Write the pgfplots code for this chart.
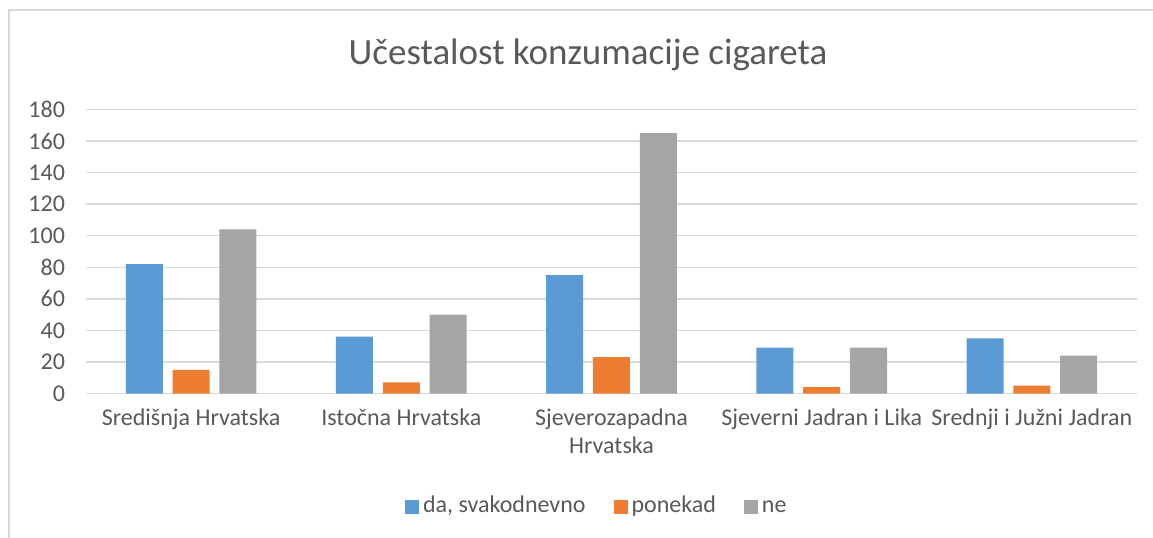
\documentclass[border=0pt]{standalone}
\usepackage{fontspec}
\setmainfont{Carlito}
\usepackage{pgfplots}
\pgfplotsset{compat=1.18}
\definecolor{cBlue}{HTML}{5B9BD5}
\definecolor{cOrange}{HTML}{ED7D31}
\definecolor{cGray}{HTML}{A5A5A5}
\definecolor{cText}{HTML}{595959}
\definecolor{cGrid}{HTML}{D9D9D9}
\begin{document}
\begin{tikzpicture}[x=1pt,y=1pt]
\path[use as bounding box] (0,0) rectangle (576.5,268.5);
\draw[cGrid, line width=1pt] (4.25,-2) -- (4.25,263.5) -- (580,263.5);
\node[text=cText, font=\fontsize{18.5}{22}\selectfont] at (294,241) {Učestalost konzumacije cigareta};
\begin{axis}[
  at={(43pt,71.75pt)}, anchor=south west,
  scale only axis,
  width=525.5pt, height=142pt,
  xmin=-0.5, xmax=4.5,
  ymin=0, ymax=180,
  ytick={0,20,...,180},
  xtick={0,1,2,3,4},
  xticklabels={Središnja Hrvatska, Istočna Hrvatska, Sjeverozapadna\\Hrvatska, Sjeverni Jadran i Lika, Srednji i Južni Jadran},
  xticklabel style={align=center, font=\fontsize{12}{14}\selectfont, text=cText, yshift=-4pt},
  yticklabel style={font=\fontsize{12}{14}\selectfont, text=cText, xshift=-7pt},
  /pgf/number format/assume math mode=true,
  axis line style={draw=none},
  major tick length=0pt,
  ymajorgrids,
  grid style={cGrid, line width=0.75pt},
  ybar, bar width=18.5pt,
  legend columns=3,
  legend style={draw=none, fill=none, at={(0.487,-0.3996)}, anchor=center,
    font=\fontsize{12}{14}\selectfont, text=cText,
    nodes={text height=9pt, text depth=3pt},
    /tikz/every even column/.append style={column sep=12pt}},
  legend image code/.code={\fill[#1] (-2pt,-3.5pt) rectangle (5pt,3.5pt);},
]
\addplot[fill=cBlue, draw=none, bar shift=-23.4pt] coordinates {(0,82) (1,36) (2,75) (3,29) (4,35)};
\addlegendentry{da{,} svakodnevno}
\addplot[fill=cOrange, draw=none, bar shift=0pt] coordinates {(0,15) (1,7) (2,23) (3,4) (4,5)};
\addlegendentry{ponekad}
\addplot[fill=cGray, draw=none, bar shift=23.4pt] coordinates {(0,104) (1,50) (2,165) (3,29) (4,24)};
\addlegendentry{ne}
\end{axis}
\end{tikzpicture}
\end{document}
